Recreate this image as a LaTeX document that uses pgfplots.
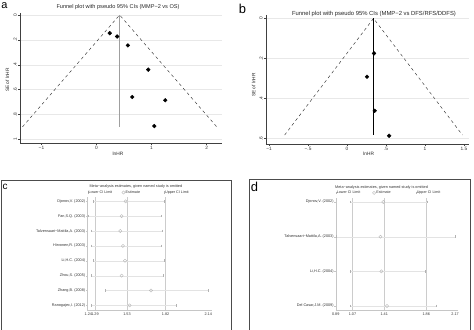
\documentclass[border=0pt]{standalone}
\usepackage{fontspec}
\setmainfont{Liberation Sans}
\usepackage{pgfplots}
\pgfplotsset{compat=1.18}
\begin{document}
\begin{tikzpicture}
\useasboundingbox (0bp,0bp) rectangle (474bp,330bp);
\pgfplotsset{
  funnel/.style={scale only axis, anchor=center, y dir=reverse,
    axis x line*=bottom, axis y line*=left,
    axis line style={black!75, line width=0.5bp},
    tick style={black!75, line width=0.4bp}, tick align=outside, major tick length=2bp,
    ymajorgrids, grid style={gray!18, line width=0.4bp},
    /pgf/number format/assume math mode=true,
    tick label style={font=\fontsize{4.8}{5.5}\selectfont, text=black!80},
    yticklabel style={rotate=90, anchor=south, inner sep=1bp},
    xticklabel style={inner sep=1bp},
    clip=false},
  meta/.style={scale only axis, anchor=center,
    axis x line*=bottom, axis y line*=left,
    axis line style={gray!45, line width=0.4bp},
    tick style={gray!45, line width=0.3bp}, tick align=outside, major tick length=1.3bp,
    /pgf/number format/assume math mode=true,
    tick label style={font=\fontsize{3.8}{4.3}\selectfont, text=black!80, inner sep=0.6bp},
    xticklabel style={yshift=-0.6bp},
    legend image code/.code={\draw[#1] plot coordinates {(1.3bp,0bp)};},
    legend columns=3, legend cell align=left,
    legend style={draw=none, fill=none, inner sep=0pt, outer sep=0pt, anchor=west,
      font=\fontsize{3.7}{4.2}\selectfont, text=black!80,
      nodes={inner sep=0.4bp}, column sep=0.3bp},
    clip=false},
  lo/.style={only marks, mark=|, mark size=1.3bp, gray!60, mark options={line width=0.35bp}},
  es/.style={only marks, mark=o, mark size=1.6bp, gray!60, mark options={line width=0.35bp}},
}
% ---------------- panel a ----------------
\begin{axis}[funnel, at={(121bp,252bp)}, width=202bp, height=130bp,
  xmin=-1.39, xmax=2.28, ymin=-0.016, ymax=1.03,
  xtick={-1,0,1,2}, xticklabels={−1,0,1,2},
  ytick={0,0.2,0.4,0.6,0.8,1}, yticklabels={0,.2,.4,.6,.8,1}]
\addplot[black!80, dashed, line width=0.45bp] coordinates {(-1.345,0.9) (0.42,0) (2.185,0.9)};
\addplot[gray!75, line width=1.3bp] coordinates {(0.42,0) (0.42,0.9)};
\addplot[only marks, mark=*, mark size=1.9bp, black] coordinates {
 (0.24,0.146) (0.375,0.173) (0.57,0.245) (0.94,0.44) (0.65,0.66) (1.25,0.686) (1.05,0.894)};
\end{axis}
\node[font=\fontsize{5.6}{6.5}\selectfont, text=black!85] at (118bp,323bp) {Funnel plot with pseudo 95\% CIs (MMP−2 vs OS)};
\node[font=\fontsize{4.8}{5.5}\selectfont, text=black!85] at (118bp,176bp) {lnHR};
\node[font=\fontsize{4.8}{5.5}\selectfont, text=black!85, rotate=90] at (7.3bp,250bp) {SE of lnHR};
\node[font=\fontsize{11}{12}\selectfont, inner sep=0pt] at (4.5bp,324bp) {a};
% ---------------- panel b ----------------
\begin{axis}[funnel, at={(367.3bp,250.5bp)}, width=202.7bp, height=129bp,
  xmin=-1.04, xmax=1.56, ymin=-0.017, ymax=0.628,
  xtick={-1,-0.5,0,0.5,1,1.5}, xticklabels={−1,−.5,0,.5,1,1.5},
  ytick={0,0.2,0.4,0.6}, yticklabels={0,.2,.4,.6}]
\addplot[black!80, dashed, line width=0.45bp] coordinates {(-0.80,0.583) (0.34,0) (1.48,0.583)};
\addplot[black, line width=0.6bp] coordinates {(0.34,0) (0.34,0.583)};
\addplot[only marks, mark=*, mark size=1.9bp, black] coordinates {
 (0.346,0.175) (0.256,0.292) (0.355,0.462) (0.54,0.587)};
\end{axis}
\node[font=\fontsize{5.9}{6.8}\selectfont, text=black!85] at (374bp,316bp) {Funnel plot with pseudo 95\% CIs (MMP−2 vs DFS/RFS/DDFS)};
\node[font=\fontsize{4.8}{5.5}\selectfont, text=black!85] at (368.7bp,176bp) {lnHR};
\node[font=\fontsize{4.8}{5.5}\selectfont, text=black!85, rotate=90] at (253.7bp,245bp) {SE of lnHR};
\node[font=\fontsize{13}{14}\selectfont] at (242.5bp,321.5bp) {b};
% ---------------- panel c ----------------
\draw[black!70, line width=0.8bp] (1bp,-3bp) -- (1bp,149.5bp) -- (231.5bp,149.5bp) -- (231.5bp,-3bp);
\node[font=\fontsize{10}{11}\selectfont] at (5bp,143.5bp) {c};
\node[anchor=west, inner sep=0pt, font=\fontsize{3.8}{4.3}\selectfont, text=black!80] at (89.3bp,143bp) {Meta−analysis estimates, given named study is omitted};
\begin{axis}[meta, at={(149.65bp,76.65bp)}, width=124.7bp, height=113.3bp,
  xmin=1.2325, xmax=2.168, ymin=0.69, ymax=8.31,
  xtick={1.24,1.29,1.53,1.82,2.14}, xticklabels={1.24,1.29,1.53,1.82,2.14},
  ytick={1,2,3,4,5,6,7,8},
  yticklabels={{Ranogajec,I. (2012)},{Zhang,B. (2008)},{Zhou,S. (2005)},{Li,H.C. (2004)},{Hirvonen,R. (2003)},{Talvensaari−Mattila,A. (2003)},{Fan,S.Q. (2003)},{Djonov,V. (2002)}},
  legend style={at={(0.005,1.037)}}]
\addlegendimage{lo}
\addlegendentry{\makebox[32.5bp][l]{Lower CI Limit}}
\addlegendimage{es}
\addlegendentry{\makebox[38bp][l]{Estimate}}
\addlegendimage{lo}
\addlegendentry{Upper CI Limit}
\addplot[gray!40, line width=0.45bp, forget plot] coordinates {(1.29,0.69) (1.29,8.31)};
\addplot[gray!40, line width=0.45bp, forget plot] coordinates {(1.53,0.69) (1.53,8.31)};
\addplot[gray!40, line width=0.45bp, forget plot] coordinates {(1.82,0.69) (1.82,8.31)};
\addplot[gray!22, line width=0.3bp, unbounded coords=jump, forget plot] coordinates {
 (1.28,8) (1.81,8) (nan,nan) (1.24,7) (1.785,7) (nan,nan) (1.26,6) (1.795,6) (nan,nan)
 (1.265,5) (1.79,5) (nan,nan) (1.28,4) (1.81,4) (nan,nan) (1.26,3) (1.80,3) (nan,nan)
 (1.37,2) (2.14,2) (nan,nan) (1.265,1) (1.90,1)};
\addplot[lo, forget plot] coordinates {(1.28,8) (1.24,7) (1.26,6) (1.265,5) (1.28,4) (1.26,3) (1.37,2) (1.265,1)};
\addplot[es, forget plot] coordinates {(1.52,8) (1.49,7) (1.48,6) (1.50,5) (1.515,4) (1.49,3) (1.71,2) (1.55,1)};
\addplot[lo, forget plot] coordinates {(1.81,8) (1.785,7) (1.795,6) (1.79,5) (1.81,4) (1.80,3) (2.14,2) (1.90,1)};
\end{axis}
% ---------------- panel d ----------------
\draw[black!70, line width=0.8bp] (249bp,-3bp) -- (249bp,150.5bp) -- (470bp,150.5bp) -- (470bp,-3bp);
\node[font=\fontsize{13}{14}\selectfont] at (254.5bp,143bp) {d};
\node[anchor=west, inner sep=0pt, font=\fontsize{3.8}{4.3}\selectfont, text=black!80] at (335bp,142.7bp) {Meta−analysis estimates, given named study is omitted};
\begin{axis}[meta, at={(396.85bp,76bp)}, width=122.3bp, height=112bp,
  xmin=0.89, xmax=2.201, ymin=0.885, ymax=4.115,
  xtick={0.89,1.07,1.41,1.86,2.17}, xticklabels={0.89,1.07,1.41,1.86,2.17},
  ytick={1,2,3,4},
  yticklabels={{Del Casar,J.M. (2009)},{Li,H.C. (2004)},{Talvensaari−Mattila,A. (2003)},{Djonov,V. (2002)}},
  legend style={at={(0.003,1.045)}}]
\addlegendimage{lo}
\addlegendentry{\makebox[35bp][l]{Lower CI Limit}}
\addlegendimage{es}
\addlegendentry{\makebox[39bp][l]{Estimate}}
\addlegendimage{lo}
\addlegendentry{Upper CI Limit}
\addplot[gray!40, line width=0.45bp, forget plot] coordinates {(1.07,0.885) (1.07,4.115)};
\addplot[gray!40, line width=0.45bp, forget plot] coordinates {(1.41,0.885) (1.41,4.115)};
\addplot[gray!40, line width=0.45bp, forget plot] coordinates {(1.86,0.885) (1.86,4.115)};
\addplot[gray!22, line width=0.3bp, unbounded coords=jump, forget plot] coordinates {
 (1.05,4) (1.87,4) (nan,nan) (0.89,3) (2.17,3) (nan,nan) (1.04,2) (1.85,2) (nan,nan) (1.05,1) (1.97,1)};
\addplot[lo, forget plot] coordinates {(1.05,4) (0.89,3) (1.04,2) (1.05,1)};
\addplot[es, forget plot] coordinates {(1.40,4) (1.37,3) (1.38,2) (1.44,1)};
\addplot[lo, forget plot] coordinates {(1.87,4) (2.17,3) (1.85,2) (1.97,1)};
\end{axis}
\end{tikzpicture}
\end{document}
